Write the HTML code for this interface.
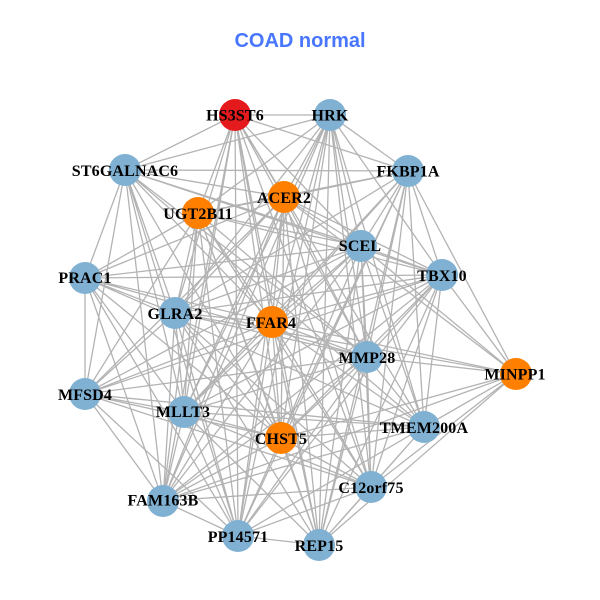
<!DOCTYPE html>
<html><head><meta charset="utf-8"><style>
html,body{margin:0;padding:0;background:#fff}
svg{display:block}
.n{font:bold 16px "Liberation Serif",serif;fill:#000;text-anchor:middle;letter-spacing:.15px}
</style></head><body>
<svg width="600" height="600" viewBox="0 0 600 600" xmlns="http://www.w3.org/2000/svg">
<rect width="600" height="600" fill="#fff"/>
<g fill="none" stroke="#b3b3b3" stroke-width="1.3">
<path d="M235 115L330 115M235 115L408 171M235 115L125 170M235 115L198 213M235 115L284 197M235 115L361 246M235 115L175 313M235 115L272 322M235 115L367 357M235 115L184 412M235 115L281 438M235 115L163 501M235 115L238 536M235 115L319 545M235 115L371 487M235 115L424 427"/>
<path d="M330 115L408 171M330 115L125 170M330 115L284 197M330 115L198 213M330 115L361 246M330 115L442 275M330 115L175 313M330 115L272 322M330 115L367 357M330 115L184 412M330 115L281 438M330 115L371 487M330 115L238 536M330 115L319 545M330 115L163 501M330 115L424 427"/>
<path d="M408 171L125 170M408 171L284 197M408 171L198 213M408 171L361 246M408 171L442 275M408 171L272 322M408 171L367 357M408 171L516 374M408 171L184 412M408 171L424 427M408 171L281 438M408 171L371 487M408 171L238 536M408 171L319 545M408 171L175 313"/>
<path d="M125 170L284 197M125 170L361 246M125 170L442 275M125 170L85 278M125 170L175 313M125 170L272 322M125 170L367 357M125 170L184 412M125 170L281 438M125 170L85 394M125 170L163 501M125 170L238 536M125 170L424 427"/>
<path d="M284 197L198 213M284 197L361 246M284 197L442 275M284 197L175 313M284 197L272 322M284 197L367 357M284 197L85 394M284 197L184 412M284 197L281 438M284 197L371 487M284 197L163 501M284 197L238 536M284 197L85 278M284 197L516 374M284 197L319 545"/>
<path d="M198 213L361 246M198 213L442 275M198 213L85 278M198 213L175 313M198 213L272 322M198 213L85 394M198 213L184 412M198 213L281 438M198 213L163 501M198 213L238 536M198 213L319 545M198 213L367 357M198 213L371 487"/>
<path d="M361 246L442 275M361 246L85 278M361 246L175 313M361 246L272 322M361 246L367 357M361 246L516 374M361 246L85 394M361 246L184 412M361 246L424 427M361 246L281 438M361 246L371 487M361 246L163 501M361 246L319 545"/>
<path d="M442 275L85 278M442 275L85 394M442 275L272 322M442 275L367 357M442 275L516 374M442 275L184 412M442 275L424 427M442 275L281 438M442 275L371 487M442 275L163 501M442 275L238 536M442 275L319 545M442 275L175 313"/>
<path d="M85 278L175 313M85 278L272 322M85 278L367 357M85 278L85 394M85 278L184 412M85 278L424 427M85 278L281 438M85 278L163 501M85 278L238 536"/>
<path d="M175 313L272 322M175 313L367 357M175 313L516 374M175 313L85 394M175 313L184 412M175 313L281 438M175 313L163 501M175 313L238 536M175 313L319 545M175 313L371 487"/>
<path d="M272 322L367 357M272 322L516 374M272 322L85 394M272 322L184 412M272 322L424 427M272 322L281 438M272 322L371 487M272 322L163 501M272 322L238 536M272 322L319 545"/>
<path d="M367 357L516 374M367 357L85 394M367 357L184 412M367 357L424 427M367 357L281 438M367 357L371 487M367 357L163 501M367 357L238 536M367 357L319 545"/>
<path d="M516 374L424 427M516 374L281 438M516 374L371 487M516 374L163 501M516 374L319 545"/>
<path d="M85 394L184 412M85 394L424 427M85 394L281 438M85 394L163 501M85 394L238 536M85 394L371 487"/>
<path d="M184 412L424 427M184 412L281 438M184 412L371 487M184 412L163 501M184 412L238 536M184 412L319 545"/>
<path d="M424 427L281 438M424 427L371 487M424 427L238 536M424 427L319 545M424 427L163 501"/>
<path d="M281 438L371 487M281 438L163 501M281 438L238 536M281 438L319 545"/>
<path d="M371 487L238 536M371 487L319 545M371 487L163 501M163 501L238 536M238 536L319 545"/>
</g>
<g>
<circle cx="235" cy="115" r="16" fill="#E41A1C"/>
<circle cx="330" cy="115" r="16" fill="#80B1D3"/>
<circle cx="408" cy="171" r="16" fill="#80B1D3"/>
<circle cx="125" cy="170" r="16" fill="#80B1D3"/>
<circle cx="284" cy="197" r="16" fill="#FF7F00"/>
<circle cx="198" cy="213" r="16" fill="#FF7F00"/>
<circle cx="361" cy="246" r="16" fill="#80B1D3"/>
<circle cx="442" cy="275" r="16" fill="#80B1D3"/>
<circle cx="85" cy="278" r="16" fill="#80B1D3"/>
<circle cx="175" cy="313" r="16" fill="#80B1D3"/>
<circle cx="272" cy="322" r="16" fill="#FF7F00"/>
<circle cx="367" cy="357" r="16" fill="#80B1D3"/>
<circle cx="516" cy="374" r="16" fill="#FF7F00"/>
<circle cx="85" cy="394" r="16" fill="#80B1D3"/>
<circle cx="184" cy="412" r="16" fill="#80B1D3"/>
<circle cx="424" cy="427" r="16" fill="#80B1D3"/>
<circle cx="281" cy="438" r="16" fill="#FF7F00"/>
<circle cx="371" cy="487" r="16" fill="#80B1D3"/>
<circle cx="163" cy="501" r="16" fill="#80B1D3"/>
<circle cx="238" cy="536" r="16" fill="#80B1D3"/>
<circle cx="319" cy="545" r="16" fill="#80B1D3"/>
</g>
<g>
<text class="n" x="235" y="120.5">HS3ST6</text>
<text class="n" x="330" y="120.5">HRK</text>
<text class="n" x="408" y="176.5">FKBP1A</text>
<text class="n" x="125" y="176">ST6GALNAC6</text>
<text class="n" x="284" y="203">ACER2</text>
<text class="n" x="198" y="219">UGT2B11</text>
<text class="n" x="360" y="251">SCEL</text>
<text class="n" x="442" y="281">TBX10</text>
<text class="n" x="85" y="283">PRAC1</text>
<text class="n" x="175" y="319">GLRA2</text>
<text class="n" x="271" y="328">FFAR4</text>
<text class="n" x="367" y="363">MMP28</text>
<text class="n" x="515" y="379.5">MINPP1</text>
<text class="n" x="85" y="400">MFSD4</text>
<text class="n" x="183" y="417">MLLT3</text>
<text class="n" x="424" y="433">TMEM200A</text>
<text class="n" x="281" y="444">CHST5</text>
<text class="n" x="371" y="493">C12orf75</text>
<text class="n" x="163" y="505.5">FAM163B</text>
<text class="n" x="238" y="542">PP14571</text>
<text class="n" x="319" y="551">REP15</text>
</g>
<text x="300" y="47" text-anchor="middle" style="font:bold 20px 'Liberation Sans',sans-serif" fill="#4876FF">COAD normal</text>
</svg>
</body></html>
